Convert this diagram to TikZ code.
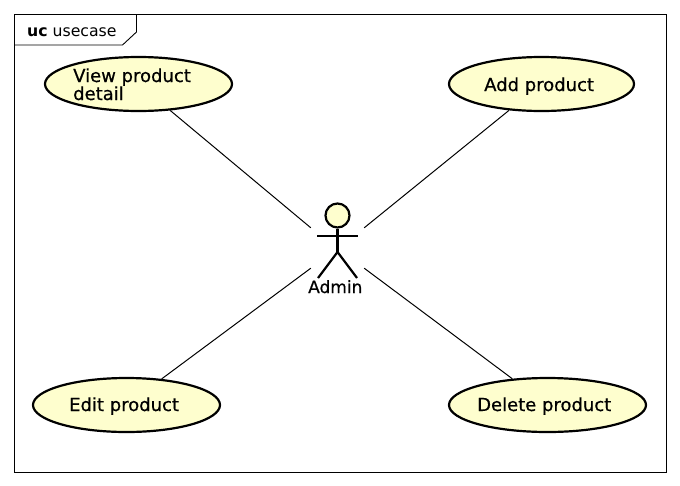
\documentclass[tikz,border=0pt]{standalone}
\usepackage{fontspec}
\setmainfont{DejaVu Sans}
\newfontfamily\ucfont[FakeBold=0.6]{DejaVu Sans}
\usetikzlibrary{positioning,shapes.geometric}
\definecolor{ucfill}{HTML}{FEFECE}
\begin{document}
\begin{tikzpicture}[x=1pt,y=-1pt,
  usecase/.style={ellipse,draw,line width=2.2pt,fill=ucfill,inner sep=0pt,
    minimum height=54pt},
  usetext/.style={anchor=base west,inner sep=0pt,align=left,
    font=\ucfont\fontsize{18}{18}\selectfont},
  limb/.style={line width=2.2pt},
  link/.style={line width=1pt}]
\useasboundingbox (0,0) rectangle (680,485);
\fill[white] (0,0) rectangle (680,485);
\draw[line width=0.9pt] (14,14) rectangle (666,472);
\draw[line width=0.9pt] (136.5,14) -- (136.5,32) -- (122.5,45) -- (14,45);
\node (frametitle) [anchor=base west,inner sep=0pt,font=\fontsize{15.7}{18}\selectfont]
at (27,36) {\textbf{uc} usecase};
\node (view) [usecase, minimum width=187pt] at (138.5,84) {};
\node (viewtext) [usetext] at (73,100) {View product\\detail};
\node (add) [usecase, minimum width=185pt] at (541.5,84) {};
\node (addtext) [usetext] at (484,91) {Add product};
\node (edit) [usecase, minimum width=187pt] at (126.5,405) {};
\node (edittext) [usetext] at (69,411) {Edit product};
\node (delete) [usecase, minimum width=197pt] at (547.5,405) {};
\node (deletetext) [usetext] at (477,411) {Delete product};
\node (admin) [minimum width=53pt,minimum height=40pt,inner sep=0pt] at (337.5,248) {};
\node (head) [circle,draw,line width=2.2pt,fill=ucfill,minimum size=24pt,inner sep=0pt]
at (337.5,215.5) {};
\coordinate (hip) at (337.5,252);
\coordinate (armL) at (317,236);
\coordinate (armR) at (358,236);
\coordinate (footL) at (318,278);
\coordinate (footR) at (357,278);
\draw[limb] (head) -- (hip);
\draw[limb] (armL) -- (armR);
\draw[limb] (footL) -- (hip) -- (footR);
\node (adminlabel) [usetext,font=\ucfont\fontsize{17}{18}\selectfont] at (308,293) {Admin};
\draw[link] (view) -- (admin.north west);
\draw[link] (add) -- (admin.north east);
\draw[link] (edit) -- (admin.south west);
\draw[link] (delete) -- (admin.south east);
\end{tikzpicture}
\end{document}
